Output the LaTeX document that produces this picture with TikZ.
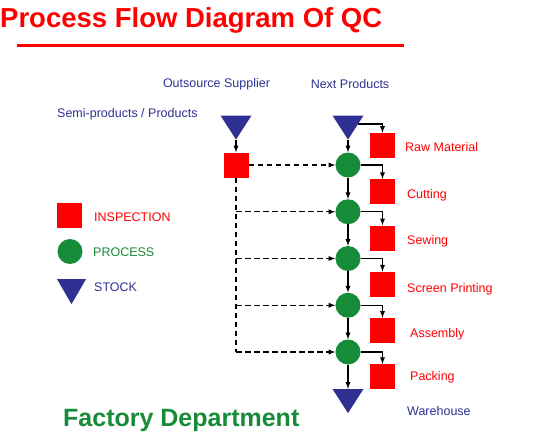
\documentclass[tikz,border=0pt]{standalone}
\usepackage{fontspec}
\setmainfont{Liberation Sans}
\usepackage{xcolor}
\usepackage{tikz}
\usetikzlibrary{shapes.geometric}
\definecolor{qcgreen}{RGB}{22,140,56}
\definecolor{qcnavy}{RGB}{46,49,146}

\begin{document}
\begin{tikzpicture}[x=1pt, y=-1pt,
  inspect/.style={fill=red, minimum size=25pt, inner sep=0pt},
  process/.style={circle, fill=qcgreen, minimum size=25pt, inner sep=0pt},
  stock/.style={isosceles triangle, shape border rotate=270, isosceles triangle stretches, fill=qcnavy, minimum width=31pt, minimum height=24pt, inner sep=0pt},
  lbl/.style={font=\fontsize{12.5}{14}\selectfont, inner sep=0pt},
  flow/.style={black, line width=1.3pt, -latex},
  feed/.style={black, line width=1.3pt, dash pattern=on 5.5pt off 3.5pt, -latex}]
  \useasboundingbox (0,0) rectangle (541,436);
  % heading
  \node[font=\fontsize{27.5}{30}\selectfont\bfseries, text=red, anchor=base west, inner sep=0pt] (title) at (0,28) {Process Flow Diagram Of QC};
  \draw[red, line width=3pt] (17,46) -- (404,46);
  \node[font=\fontsize{25}{28}\selectfont\bfseries, text=qcgreen, anchor=base west, inner sep=0pt] (dept) at (63,426) {Factory Department};
  % top captions
  \node[lbl, text=qcnavy] (suplbl) at (216.5,84) {Outsource Supplier};
  \node[lbl, text=qcnavy] (nextlbl) at (350,84) {Next Products};
  \node[lbl, text=qcnavy, anchor=west] (semilbl) at (57,114) {Semi-products / Products};
  % legend
  \node[inspect] (keyq) at (69.5,215.5) {};
  \node[process] (keyp) at (70,251.5) {};
  \node[stock, minimum width=29pt, minimum height=25pt] (keys) at (71.5,287.5) {};
  \node[lbl, text=red, anchor=west] (keyqlbl) at (94,217) {INSPECTION};
  \node[lbl, text=qcgreen, anchor=west] (keyplbl) at (93,252) {PROCESS};
  \node[lbl, text=qcnavy, anchor=west] (keyslbl) at (94,287) {STOCK};
  % supplier branch
  \node[stock] (sup) at (236,124) {};
  \node[inspect] (semi) at (236,165) {};
  % main line
  \node[stock] (next) at (348,124) {};
  \node[process] (p1) at (348,165) {};
  \node[process] (p2) at (348,211.75) {};
  \node[process] (p3) at (348,258.5) {};
  \node[process] (p4) at (348,305.25) {};
  \node[process] (p5) at (348,352) {};
  \node[stock] (wh) at (348,397.5) {};
  % inspections
  \node[inspect] (q0) at (382.5,145.5) {};
  \node[inspect] (q1) at (382.5,191.75) {};
  \node[inspect] (q2) at (382.5,238) {};
  \node[inspect] (q3) at (382.5,284.25) {};
  \node[inspect] (q4) at (382.5,330.5) {};
  \node[inspect] (q5) at (382.5,376.75) {};
  \node[lbl, text=red, anchor=base west] (q0lbl) at (405,151.3) {Raw Material};
  \node[lbl, text=red, anchor=base west] (q1lbl) at (407,198.3) {Cutting};
  \node[lbl, text=red, anchor=base west] (q2lbl) at (407,244.3) {Sewing};
  \node[lbl, text=red, anchor=base west] (q3lbl) at (407,292.3) {Screen Printing};
  \node[lbl, text=red, anchor=base west] (q4lbl) at (410,337.3) {Assembly};
  \node[lbl, text=red, anchor=base west] (q5lbl) at (410,380.3) {Packing};
  \node[lbl, text=qcnavy, anchor=base west] (whlbl) at (407,415.3) {Warehouse};
  % solid flow
  \draw[flow] (next) -- (p1);
  \draw[flow] (p1) -- (p2);
  \draw[flow] (p2) -- (p3);
  \draw[flow] (p3) -- (p4);
  \draw[flow] (p4) -- (p5);
  \draw[flow] (p5) -- (wh);
  \draw[flow] (next.east) -| (q0.north);
  \draw[flow] (p1.east) -| (q1.north);
  \draw[flow] (p2.east) -| (q2.north);
  \draw[flow] (p3.east) -| (q3.north);
  \draw[flow] (p4.east) -| (q4.north);
  \draw[flow] (p5.east) -| (q5.north);
  % dashed supply
  \draw[feed] (sup) -- (semi);
  \draw[feed] (semi) -- (p1);
  \draw[feed, -] (semi.south) -- (semi.south |- p5);
  \draw[feed] (semi.south |- p2) -- (p2);
  \draw[feed] (semi.south |- p3) -- (p3);
  \draw[feed] (semi.south |- p4) -- (p4);
  \draw[feed] (semi.south |- p5) -- (p5);
\end{tikzpicture}
\end{document}
